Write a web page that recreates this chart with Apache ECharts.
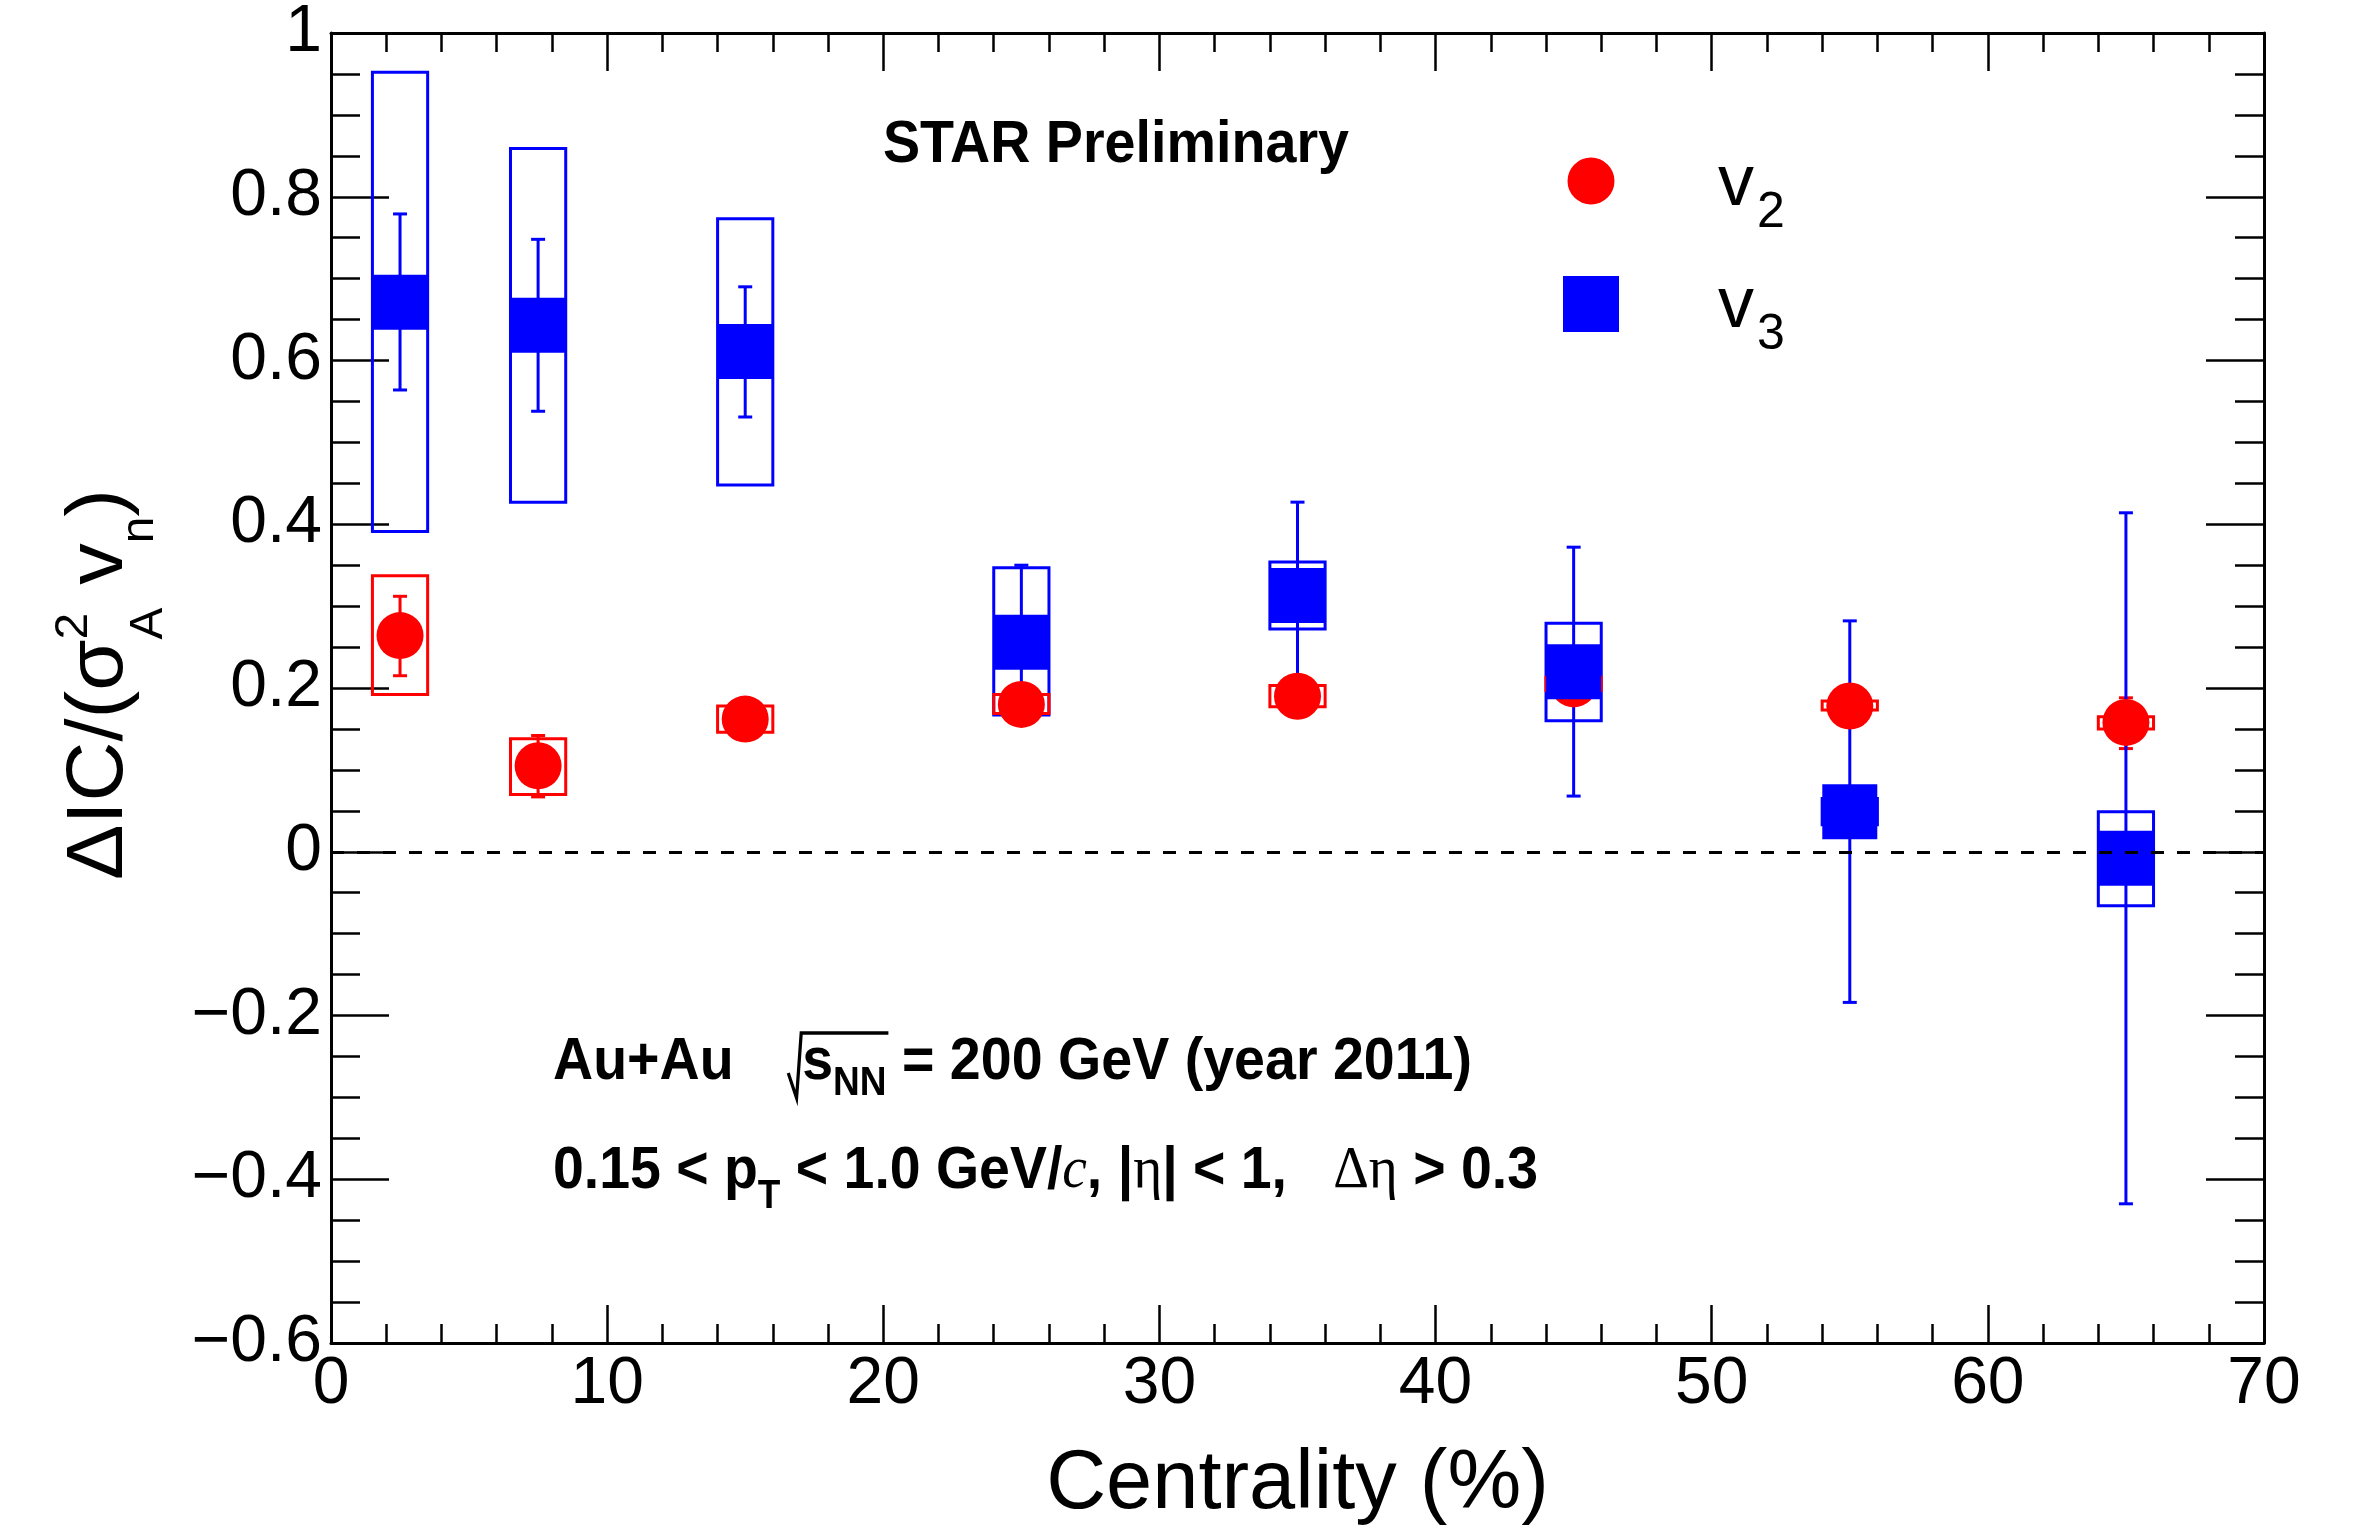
<!DOCTYPE html>
<html>
<head>
<meta charset="utf-8">
<script src="https://cdn.jsdelivr.net/npm/echarts@6/dist/echarts.min.js"></script>
<style>
  html, body { margin: 0; padding: 0; background: #ffffff; }
  #chart { width: 2357px; height: 1533px; }
</style>
</head>
<body>
<div id="chart"></div>
<script>
// ---- data -----------------------------------------------------------------
// centrality bin centres (%)
const centrality = [2.5, 7.5, 15, 25, 35, 45, 55, 65];

// v2: central values, statistical range, systematic range
const v2Value    = [0.264, 0.105, 0.162, 0.180, 0.190, 0.205, 0.178, 0.158];
const v2StatLow  = [0.215, 0.067, 0.150, 0.170, 0.180, 0.195, 0.168, 0.126];
const v2StatHigh = [0.312, 0.142, 0.174, 0.190, 0.200, 0.215, 0.188, 0.188];
const v2SysLow   = [0.192, 0.070, 0.146, 0.169, 0.177, 0.197, 0.173, 0.150];
const v2SysHigh  = [0.337, 0.138, 0.178, 0.192, 0.203, 0.213, 0.184, 0.165];

// v3: central values, statistical range, systematic range
const v3Value    = [0.671, 0.643, 0.611, 0.256, 0.313, 0.220, 0.049, -0.008];
const v3StatLow  = [0.564, 0.538, 0.531, 0.164, 0.199, 0.068, -0.184, -0.430];
const v3StatHigh = [0.779, 0.748, 0.690, 0.350, 0.427, 0.372, 0.282, 0.414];
const v3SysLow   = [0.391, 0.427, 0.448, 0.167, 0.272, 0.160, 0.033, -0.066];
const v3SysHigh  = [0.952, 0.859, 0.773, 0.347, 0.354, 0.279, 0.065, 0.049];

// axis ranges and tick steps
const xRange = [0, 70];
const xStep = 10;
const yRange = [-0.6, 1];
const yStep = 0.2;

// ---- style ----------------------------------------------------------------
const RED = '#ff0000';
const BLUE = '#0000ff';
const SANS = '"Liberation Sans", Arial, Helvetica, sans-serif';
const SERIF = '"Liberation Serif", "Times New Roman", serif';
const BOX_HALF = 1.0;      // half width of systematic boxes, centrality units
const CAP = 7;             // half width of error bar caps, px
const CIRCLE_SIZE = 47;
const SQUARE_SIZE = 55;

const sans = (px, w) => `${w || 'normal'} ${px}px ${SANS}`;
const serif = (px, st) => `${st || 'normal'} ${px}px ${SERIF}`;

// ---- custom renderers -----------------------------------------------------
function sysBox(params, api) {
  const x = api.value(0);
  const a = api.coord([x - BOX_HALF, api.value(2)]);
  const b = api.coord([x + BOX_HALF, api.value(1)]);
  return {
    type: 'rect',
    shape: { x: a[0], y: a[1], width: b[0] - a[0], height: b[1] - a[1] },
    style: { fill: 'none', stroke: api.visual('color'), lineWidth: 3 }
  };
}

function statBar(params, api) {
  const x = api.value(0);
  const lo = api.coord([x, api.value(1)]);
  const hi = api.coord([x, api.value(2)]);
  const st = { stroke: api.visual('color'), lineWidth: 3 };
  return {
    type: 'group',
    children: [
      { type: 'line', shape: { x1: lo[0], y1: lo[1], x2: hi[0], y2: hi[1] }, style: st },
      { type: 'line', shape: { x1: lo[0] - CAP, y1: lo[1], x2: lo[0] + CAP, y2: lo[1] }, style: st },
      { type: 'line', shape: { x1: hi[0] - CAP, y1: hi[1], x2: hi[0] + CAP, y2: hi[1] }, style: st }
    ]
  };
}

const rangeData = (lo, hi) => centrality.map((c, i) => [c, lo[i], hi[i]]);
const pointData = (v) => centrality.map((c, i) => [c, v[i]]);

// ---- text runs with sub/superscripts ----------------------------------------
const measureCtx = document.createElement('canvas').getContext('2d');
function textWidth(t, font) { measureCtx.font = font; return measureCtx.measureText(t).width; }

// lays out pieces along a baseline at local y = 0
function run(parts) {
  let x = 0;
  const kids = [];
  const marks = {};
  for (const p of parts) {
    if (p.skip) { x += p.skip; continue; }
    if (p.mark) { marks[p.mark] = x; continue; }
    const size = parseFloat(p.font.match(/([\d.]+)px/)[1]);
    kids.push({
      type: 'text',
      x: x,
      y: (p.dy || 0) - 0.3465 * size,
      style: {
        text: p.t, font: p.font, fill: '#000',
        align: 'left', verticalAlign: 'middle'
      }
    });
    if (!p.stay) x += textWidth(p.t, p.font);
  }
  return { kids, width: x, marks };
}

function textGroup(parts, x, y, targetWidth, extra) {
  const r = run(parts);
  const kids = r.kids.concat(extra ? extra(r.marks) : []);
  return {
    type: 'group', x: x, y: y,
    scaleX: targetWidth ? targetWidth / r.width : 1,
    children: kids
  };
}

// y axis title:  ΔIC/(σ²_A v_n)
const yTitle = (function () {
  const T = 80, S = 46;
  const r = run([
    { t: 'ΔIC/(σ', font: sans(T) },
    { t: '2', font: sans(S), dy: -38, stay: true },
    { t: 'A', font: sans(S), dy: 37 },
    { t: ' v', font: sans(T) },
    { t: 'n', font: sans(S), dy: 28 },
    { t: ')', font: sans(T) }
  ]);
  return {
    type: 'group', x: 128, y: 880, rotation: Math.PI / 2,
    scaleX: 391 / r.width, children: r.kids
  };
})();

const starLabel = textGroup([{ t: 'STAR Preliminary', font: sans(60, 'bold') }], 883, 166, 466);

const collisionLabel = textGroup([
  { t: 'Au+Au', font: sans(60, 'bold') },
  { skip: 74 },
  { mark: 'rootStart' },
  { t: 's', font: sans(60, 'bold') },
  { t: 'NN', font: sans(40, 'bold'), dy: 15 },
  { mark: 'rootEnd' },
  { t: ' = 200 GeV (year 2011)', font: sans(60, 'bold') }
], 553, 1083, 919, (m) => [{
  type: 'polyline',
  shape: { points: [
    [m.rootStart - 15, -10], [m.rootStart - 6, 15],
    [m.rootStart - 1, -50], [m.rootEnd + 2, -50]
  ] },
  style: { stroke: '#000', lineWidth: 3.5, fill: 'none', lineJoin: 'miter' }
}]);

const cutsLabel = textGroup([
  { t: '0.15 < p', font: sans(60, 'bold') },
  { t: 'T', font: sans(40, 'bold'), dy: 19 },
  { t: ' < 1.0 GeV/', font: sans(60, 'bold') },
  { t: 'c', font: serif(60, 'italic') },
  { t: ', ', font: sans(60, 'bold') },
  { t: '|', font: sans(60, 'bold') },
  { t: 'η', font: serif(60) },
  { t: '|', font: sans(60, 'bold') },
  { t: ' < 1,   ', font: sans(60, 'bold') },
  { t: 'Δη', font: serif(60) },
  { t: ' > 0.3', font: sans(60, 'bold') }
], 553, 1192, 985);

// legend entries
const legendV2 = textGroup([
  { t: 'v', font: sans(72) }, { skip: 3 }, { t: '2', font: sans(50), dy: 21 }
], 1718, 210);
const legendV3 = textGroup([
  { t: 'v', font: sans(72) }, { skip: 3 }, { t: '3', font: sans(50), dy: 21 }
], 1718, 332);

// ---- axes -----------------------------------------------------------------
function xAxisDef(position, showLabels) {
  return {
    type: 'value', position: position,
    min: xRange[0], max: xRange[1], interval: xStep,
    axisLine: { show: true, onZero: false, lineStyle: { color: '#000', width: 3 } },
    axisTick: { show: true, inside: true, length: 38, lineStyle: { color: '#000', width: 2.5 } },
    minorTick: { show: true, splitNumber: 5, length: 19, lineStyle: { color: '#000', width: 2.5 } },
    splitLine: { show: false },
    axisLabel: {
      show: showLabels, margin: 9, color: '#000',
      fontFamily: SANS, fontSize: 66
    },
    name: showLabels ? 'Centrality (%)' : '',
    nameLocation: 'middle', nameGap: 101,
    nameTextStyle: { color: '#000', fontFamily: SANS, fontSize: 83 }
  };
}

function yAxisDef(position, showLabels) {
  return {
    type: 'value', position: position,
    min: yRange[0], max: yRange[1], interval: yStep,
    axisLine: { show: true, onZero: false, lineStyle: { color: '#000', width: 3 } },
    axisTick: { show: true, inside: true, length: 58, lineStyle: { color: '#000', width: 2.5 } },
    minorTick: { show: true, splitNumber: 4, length: 29, lineStyle: { color: '#000', width: 2.5 } },
    splitLine: { show: false },
    axisLabel: {
      show: showLabels, margin: 9, color: '#000',
      fontFamily: SANS, fontSize: 66,
      formatter: (v) => {
        const r = Math.round(v * 10) / 10;
        return (r < 0 ? '\u2212' : '') + String(Math.abs(r));
      }
    }
  };
}

// ---- chart ----------------------------------------------------------------
const chart = echarts.init(document.getElementById('chart'), null, { renderer: 'canvas' });

chart.setOption({
  animation: false,
  backgroundColor: '#ffffff',
  grid: { left: 331, top: 28, right: 93, bottom: 190, containLabel: false },
  xAxis: [xAxisDef('bottom', true), xAxisDef('top', false)],
  yAxis: [yAxisDef('left', true), yAxisDef('right', false)],
  series: [
    {
      name: 'v2 stat', type: 'custom', renderItem: statBar,
      itemStyle: { color: RED }, data: rangeData(v2StatLow, v2StatHigh)
    },
    {
      name: 'v2', type: 'scatter', symbol: 'circle', symbolSize: CIRCLE_SIZE,
      itemStyle: { color: RED, opacity: 1 }, emphasis: { disabled: true },
      data: pointData(v2Value)
    },
    {
      name: 'v3 sys', type: 'custom', renderItem: sysBox,
      itemStyle: { color: BLUE }, data: rangeData(v3SysLow, v3SysHigh)
    },
    {
      name: 'v3 stat', type: 'custom', renderItem: statBar,
      itemStyle: { color: BLUE }, data: rangeData(v3StatLow, v3StatHigh)
    },
    {
      name: 'v3', type: 'scatter', symbol: 'rect', symbolSize: SQUARE_SIZE,
      itemStyle: { color: BLUE, opacity: 1 }, emphasis: { disabled: true },
      data: pointData(v3Value)
    },
    {
      name: 'v2 sys', type: 'custom', renderItem: sysBox,
      itemStyle: { color: RED }, data: rangeData(v2SysLow, v2SysHigh),
      markLine: {
        silent: true, symbol: ['none', 'none'], label: { show: false },
        lineStyle: { color: '#000', width: 3, type: [13, 13] },
        data: [{ yAxis: 0 }]
      }
    }
  ],
  graphic: [
    yTitle,
    starLabel,
    collisionLabel,
    cutsLabel,
    { type: 'circle', shape: { cx: 1591, cy: 181, r: CIRCLE_SIZE / 2 }, style: { fill: RED } },
    { type: 'rect', shape: { x: 1591 - 28, y: 304 - 28, width: 56, height: 56 }, style: { fill: BLUE } },
    legendV2,
    legendV3
  ]
});
</script>
</body>
</html>
